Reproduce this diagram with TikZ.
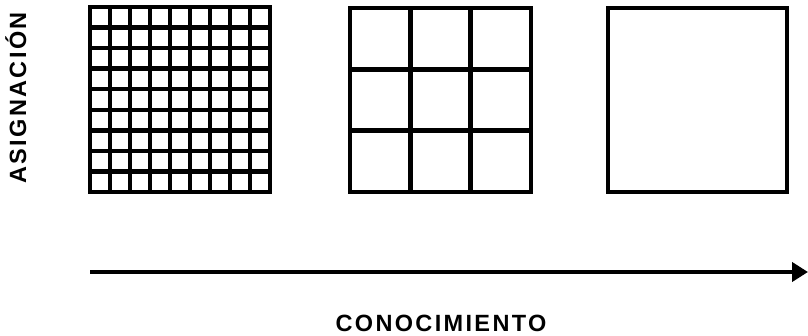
\documentclass[tikz,border=0pt]{standalone}
\usepackage{fontspec}
\setmainfont{Liberation Sans}
\newfontfamily\rotulo{Liberation Sans}[LetterSpace=10]
\usetikzlibrary{arrows.meta}
\tikzset{
  rejilla/.style={line width=4.5pt, line join=miter},
  etiqueta/.style={font=\rotulo\bfseries\fontsize{23.5}{26}\selectfont, inner sep=0pt},
}
\begin{document}
\begin{tikzpicture}[x=1pt,y=-1pt]
\useasboundingbox (0,0) rectangle (808,336);
% Rejilla fina (9x9)
\draw[rejilla] (90,7) rectangle (270,192);
\foreach \i in {1,...,8} {
  \draw[rejilla] (90+20*\i,7) -- (90+20*\i,192);
  \draw[rejilla] (90,7+20.556*\i) -- (270,7+20.556*\i);
}
% Rejilla media (3x3)
\draw[rejilla] (350,8) rectangle (531,192);
\foreach \i in {1,2} {
  \draw[rejilla] (350+60.33*\i,8) -- (350+60.33*\i,192);
  \draw[rejilla] (350,8+61.33*\i) -- (531,8+61.33*\i);
}
% Cuadro unico
\draw[rejilla] (608,8) rectangle (787,192);
% Eje
\coordinate (inicio) at (90,272);
\coordinate (fin) at (808,272);
\draw[line width=4.5pt, -{Triangle[length=16pt,width=19pt]}] (inicio) -- (fin);
% Rotulos
\node[etiqueta, rotate=90, anchor=base] (asignacion) at (26,98) {ASIGNACIÓN};
\node[etiqueta, anchor=base] (conocimiento) at (441,332) {CONOCIMIENTO};
\end{tikzpicture}
\end{document}
